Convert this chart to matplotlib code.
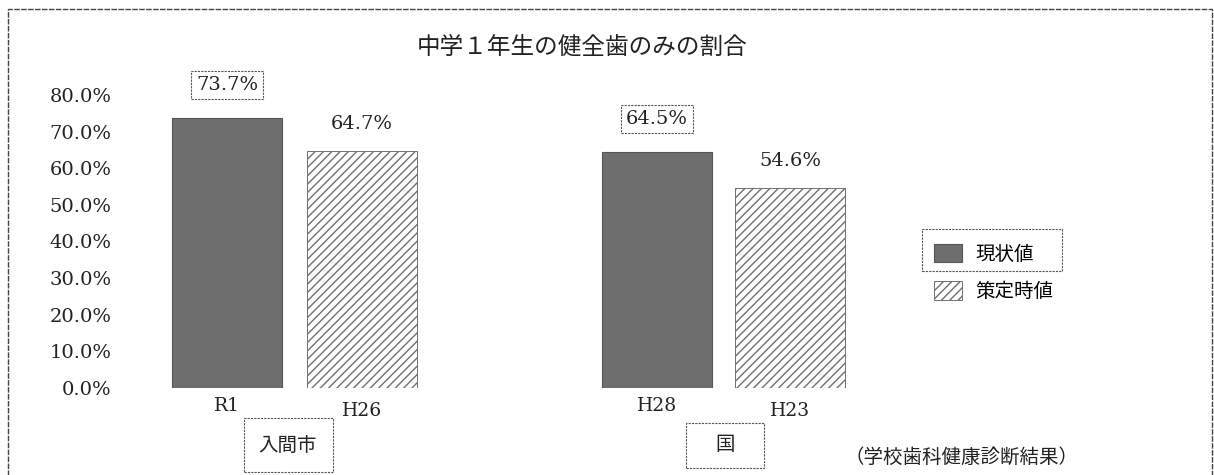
import matplotlib
matplotlib.use("Agg")
import matplotlib.pyplot as plt
from matplotlib.patches import Rectangle, Patch

plt.rcParams['font.family'] = ['DejaVu Serif', 'Noto Sans CJK JP', 'DejaVu Sans']

# ---- data ----
categories = ["R1", "H26", "H28", "H23"]
values = [73.7, 64.7, 64.5, 54.6]
series = ["現状値", "策定時値", "現状値", "策定時値"]
groups = ["入間市", "国"]
yticks = [0, 10, 20, 30, 40, 50, 60, 70, 80]
title = "中学１年生の健全歯のみの割合"
source = "（学校歯科健康診断結果）"
legend_labels = ["現状値", "策定時値"]

W, H = 1214, 475
fig = plt.figure(figsize=(W / 100, H / 100), dpi=100)
CJK = ["Noto Sans CJK JP", "DejaVu Sans"]

def fx(px):
    return px / W

def fy(py):
    return 1 - py / H

# axes: x from px 120 to 900, y from py 388 (0%) to py 95 (80%)
ax = fig.add_axes([fx(120), fy(388), fx(780), (388 - 95) / H])
positions = [0, 1, 3.185, 4.17]
ax.set_xlim(-0.793, 4.985)
ax.set_ylim(0, 80)

cur_style = dict(color="#6e6e6e", edgecolor="#555555", linewidth=0.8)
old_style = dict(color="white", edgecolor="#707070", hatch="////", linewidth=0.7)

for p, v, s in zip(positions, values, series):
    st = cur_style if s == "現状値" else old_style
    ax.bar(p, v, width=0.815, **st)

# value labels
for p, v, s in zip(positions, values, series):
    boxed = s == "現状値"
    off = 33 if boxed else 27
    kw = dict(ha="center", va="center", fontsize=14, color="#222")
    if boxed:
        kw["bbox"] = dict(boxstyle="square,pad=0.25", facecolor="white",
                          edgecolor="#555", linewidth=0.8, linestyle=(0, (2, 1)))
    ax.annotate(f"{v:.1f}%", (p, v), xytext=(0, off), textcoords="offset pixels", **kw)

# category labels (staggered)
for i, (p, c) in enumerate(zip(positions, categories)):
    dy = 18 if i % 2 == 0 else 23
    ax.annotate(c, (p, 0), xytext=(0, -dy), textcoords="offset pixels",
                ha="center", va="center", fontsize=13.5, color="#222")

ax.set_yticks(yticks)
ax.set_yticklabels([f"{t:.1f}%" for t in yticks], fontsize=14, color="#222")
ax.tick_params(axis="y", length=0, pad=6)
ax.set_xticks([])
for sp in ax.spines.values():
    sp.set_visible(False)
ax.patch.set_alpha(0)

# title
fig.text(fx(582), fy(47), title, ha="center", va="center", fontsize=17,
         family=CJK, color="#222")

# group label boxes
def group_box(cx, cy, w, h, text):
    fig.patches.append(Rectangle((fx(cx - w / 2), fy(cy + h / 2)), w / W, h / H,
                                 transform=fig.transFigure, fill=False,
                                 edgecolor="#555", linewidth=0.8, linestyle=(0, (2, 1))))
    fig.text(fx(cx), fy(cy), text, ha="center", va="center", fontsize=14,
             family=CJK, color="#222")

group_box(288, 445, 89, 54, groups[0])
group_box(725, 445, 78, 45, groups[1])

fig.text(fx(961), fy(457), source, ha="center", va="center", fontsize=14,
         family=CJK, color="#222")

# legend
handles = [Patch(facecolor="#6e6e6e", edgecolor="#555555", linewidth=0.8),
           Patch(facecolor="white", edgecolor="#707070", hatch="////", linewidth=0.7)]
leg = fig.legend(handles, legend_labels, loc="upper left",
                 bbox_to_anchor=(fx(920), fy(230)), frameon=False,
                 prop={"family": CJK, "size": 14},
                 handlelength=1.45, handleheight=1.1, labelspacing=0.85,
                 handletextpad=0.7, borderpad=0.2)
fig.patches.append(Rectangle((fx(922), fy(271)), 140 / W, 42 / H,
                             transform=fig.transFigure, fill=False,
                             edgecolor="#555", linewidth=0.8, linestyle=(0, (2, 1))))

# outer border
fig.patches.append(Rectangle((fx(8), fy(480)), (1212 - 8) / W, (480 - 9) / H,
                             transform=fig.transFigure, fill=False,
                             edgecolor="#444", linewidth=1.0, linestyle=(0, (4, 1))))

fig.savefig("out.png", dpi=100)
